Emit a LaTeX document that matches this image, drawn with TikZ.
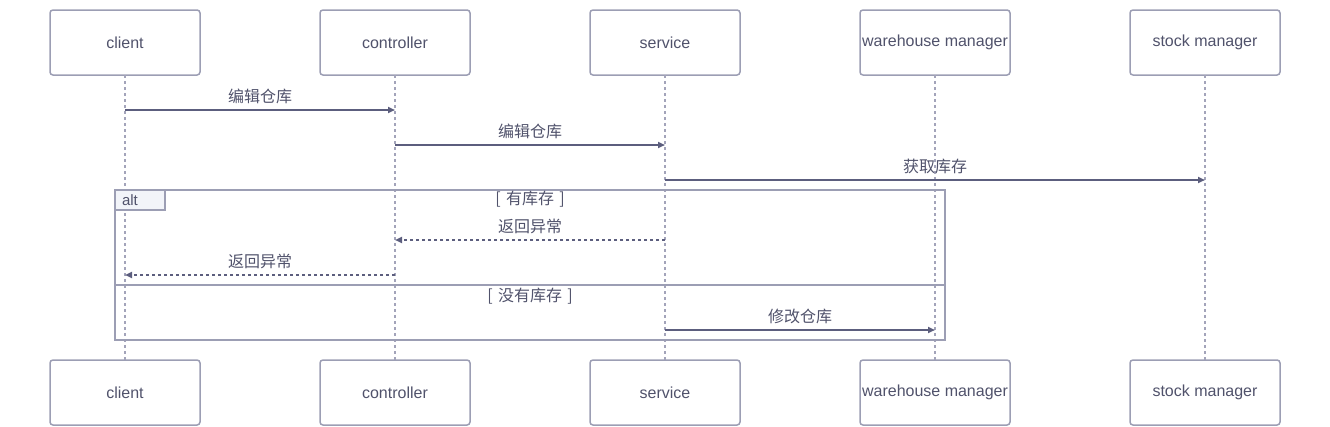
\documentclass[tikz,border=0pt]{standalone}
\usepackage{fontspec}
\setmainfont{Liberation Sans}
\newfontfamily\cjk{Noto Sans CJK SC}
\usetikzlibrary{arrows.meta, positioning}
\definecolor{boxgray}{HTML}{9C9EB4}
\definecolor{lifegray}{HTML}{A3A4BA}
\definecolor{msgcol}{HTML}{5C5E7E}
\definecolor{txtgray}{HTML}{50526B}
\definecolor{tabfill}{HTML}{F2F4F9}
\tikzset{
    actor/.style={rectangle, draw=boxgray, line width=1.5pt, rounded corners=3pt, minimum width=150pt, minimum height=65pt, inner sep=0pt, outer sep=0pt, text=txtgray, font=\fontsize{16}{19}\selectfont},
    lifeline/.style={draw=lifegray, line width=1.5pt, dash pattern=on 3pt off 3pt},
    msg/.style={draw=msgcol, line width=1.8pt, -{Triangle[length=7pt, width=6pt]}},
    reply/.style={msg, dash pattern=on 3pt off 3pt},
    lbl/.style={text=txtgray, font=\cjk\fontsize{16}{19}\selectfont, inner sep=2pt},
    frame/.style={draw=boxgray, line width=1.5pt},
    tab/.style={rectangle, draw=boxgray, fill=tabfill, line width=1.5pt, text width=36pt, inner xsep=7pt, inner ysep=0pt, outer sep=0pt, minimum height=20pt, align=left, text=txtgray, font=\fontsize{15}{18}\selectfont}
}
\begin{document}
\begin{tikzpicture}[x=1pt, y=-1pt]
    \useasboundingbox (0,0) rectangle (1330,426);

    % Top Row Participants
    \node (clientT) [actor] at (125,42.5) {client};
    \node (ctrlT) [actor, right=120pt of clientT] {controller};
    \node (servT) [actor, right=120pt of ctrlT] {service};
    \node (wareT) [actor, right=120pt of servT] {warehouse manager};
    \node (stockT) [actor, right=120pt of wareT] {stock manager};

    % Bottom Row Participants
    \node (clientB) [actor, below=285pt of clientT] {client};
    \node (ctrlB) [actor, below=285pt of ctrlT] {controller};
    \node (servB) [actor, below=285pt of servT] {service};
    \node (wareB) [actor, below=285pt of wareT] {warehouse manager};
    \node (stockB) [actor, below=285pt of stockT] {stock manager};

    % Lifelines
    \draw [lifeline] (clientT) -- (clientB);
    \draw [lifeline] (ctrlT) -- (ctrlB);
    \draw [lifeline] (servT) -- (servB);
    \draw [lifeline] (wareT) -- (wareB);
    \draw [lifeline] (stockT) -- (stockB);

    % Message rows
    \coordinate (m1) at (0,110);
    \coordinate (m2) at (0,145);
    \coordinate (m3) at (0,180);
    \coordinate (m4) at (0,240);
    \coordinate (m5) at (0,275);
    \coordinate (m6) at (0,330);

    % alt frame
    \coordinate (altNW) at (115,190);
    \coordinate (altSE) at (945,340);
    \coordinate (divL) at (115,285);
    \coordinate (divR) at (945,285);
    \draw [frame] (altNW) rectangle (altSE);
    \draw [frame] (divL) -- (divR);
    \node (altTab) [tab, anchor=north west] at (altNW) {alt};
    \node (guardA) [lbl] at (530,199) {[\,\,有库存\,\,]};
    \node (guardB) [lbl] at (530,296) {[\,\,没有库存\,\,]};

    % Requests
    \draw [msg] (clientT |- m1) -- (ctrlT |- m1) node (l1) [midway, above=3pt, lbl] {编辑仓库};
    \draw [msg] (ctrlT |- m2) -- (servT |- m2) node (l2) [midway, above=3pt, lbl] {编辑仓库};
    \draw [msg] (servT |- m3) -- (stockT |- m3) node (l3) [midway, above=3pt, lbl] {获取库存};

    % Replies inside alt
    \draw [reply] (servT |- m4) -- (ctrlT |- m4) node (l4) [midway, above=3pt, lbl] {返回异常};
    \draw [reply] (ctrlT |- m5) -- (clientT |- m5) node (l5) [midway, above=3pt, lbl] {返回异常};
    \draw [msg] (servT |- m6) -- (wareT |- m6) node (l6) [midway, above=3pt, lbl] {修改仓库};

\end{tikzpicture}
\end{document}
